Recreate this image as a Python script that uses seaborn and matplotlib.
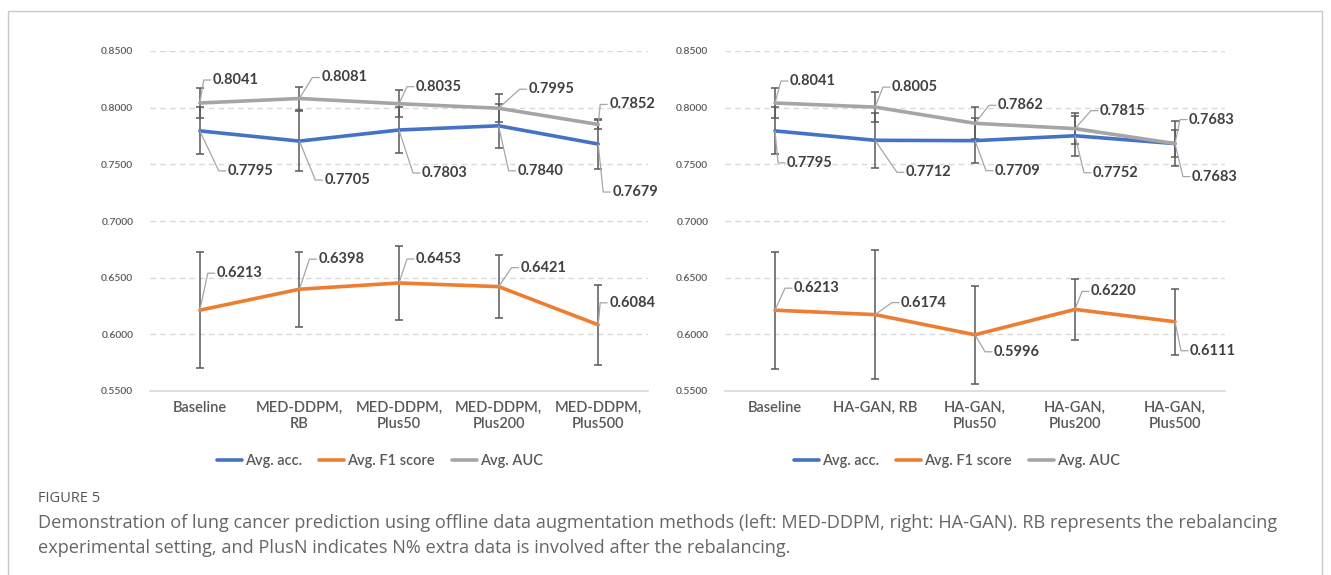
import matplotlib
matplotlib.use("Agg")
import matplotlib.pyplot as plt
from matplotlib.lines import Line2D
from matplotlib.patches import Rectangle
from matplotlib.transforms import IdentityTransform
import seaborn as sns
import pandas as pd

# ---- data -------------------------------------------------------------
left_categories = ["Baseline", "MED-DDPM,\nRB", "MED-DDPM,\nPlus50",
                   "MED-DDPM,\nPlus200", "MED-DDPM,\nPlus500"]
right_categories = ["Baseline", "HA-GAN, RB", "HA-GAN,\nPlus50",
                    "HA-GAN,\nPlus200", "HA-GAN,\nPlus500"]

left_acc = [0.7795, 0.7705, 0.7803, 0.7840, 0.7679]
left_f1 = [0.6213, 0.6398, 0.6453, 0.6421, 0.6084]
left_auc = [0.8041, 0.8081, 0.8035, 0.7995, 0.7852]
left_acc_err = [0.0207, 0.0263, 0.0200, 0.0193, 0.0219]
left_f1_err = [0.0514, 0.0332, 0.0328, 0.0279, 0.0353]
left_auc_err = [0.0130, 0.0104, 0.0118, 0.0123, 0.0040]

right_acc = [0.7795, 0.7712, 0.7709, 0.7752, 0.7683]
right_f1 = [0.6213, 0.6174, 0.5996, 0.6220, 0.6111]
right_auc = [0.8041, 0.8005, 0.7862, 0.7815, 0.7683]
right_acc_err = [0.0207, 0.0241, 0.0200, 0.0175, 0.0200]
right_f1_err = [0.0516, 0.0566, 0.0431, 0.0270, 0.0289]
right_auc_err = [0.0130, 0.0131, 0.0141, 0.0135, 0.0120]

metric_names = ["Avg. acc.", "Avg. F1 score", "Avg. AUC"]
y_ticks = [0.55, 0.60, 0.65, 0.70, 0.75, 0.80, 0.85]

caption_head = "FIGURE 5"
caption_lines = [
    "Demonstration of lung cancer prediction using offline data augmentation methods (left: MED-DDPM, right: HA-GAN). RB represents the rebalancing",
    "experimental setting, and PlusN indicates N% extra data is involved after the rebalancing.",
]

# ---- styling / layout -------------------------------------------------
colors = {"Avg. acc.": "#4472C4", "Avg. F1 score": "#ED7D31", "Avg. AUC": "#A5A5A5"}
W, H = 1331, 575
DPI = 100

# label offsets in pixels (dx right, dy down) from each point
left_offsets = {
    "Avg. acc.": [(28, 40), (25, 39), (23, 43), (19, 45), (14, 48)],
    "Avg. F1 score": [(17, -37), (19, -30), (17, -24), (22, -19), (11, -22)],
    "Avg. AUC": [(13, -23), (22, -21), (17, -17), (30, -19), (11, -20)],
}
right_offsets = {
    "Avg. acc.": [(12, 32), (31, 32), (20, 30), (18, 37), (17, 33)],
    "Avg. F1 score": [(19, -22), (26, -12), (19, 17), (16, -18), (15, 29)],
    "Avg. AUC": [(15, -22), (17, -20), (23, -18), (25, -18), (14, -24)],
}

sns.set_theme(style="white")
plt.rcParams["font.family"] = ["Lato", "DejaVu Sans"]

fig = plt.figure(figsize=(W / DPI, H / DPI), dpi=DPI)
fig.patch.set_facecolor("white")

# outer frame
fig.add_artist(Rectangle((8 / W, -0.05), (1322 - 8) / W, 1 - 11 / H + 0.05,
                         transform=fig.transFigure, fill=False,
                         edgecolor="#C9C9C9", lw=1.0))

ax_bottom = 1 - 391 / H
ax_height = (391 - 51) / H
ax_left = fig.add_axes([150 / W, ax_bottom, 498 / W, ax_height])
ax_right = fig.add_axes([725 / W, ax_bottom, 500 / W, ax_height])


def draw_panel(ax, categories, acc, f1, auc, acc_err, f1_err, auc_err, offsets):
    n = len(categories)
    series = {"Avg. acc.": acc, "Avg. F1 score": f1, "Avg. AUC": auc}
    errors = {"Avg. acc.": acc_err, "Avg. F1 score": f1_err, "Avg. AUC": auc_err}
    rows = []
    for m in metric_names:
        for i in range(n):
            rows.append({"pos": i, "metric": m, "value": series[m][i]})
    df = pd.DataFrame(rows)

    ax.set_xlim(-0.5, n - 0.5)
    ax.set_ylim(y_ticks[0], y_ticks[-1])

    # dashed horizontal gridlines
    for t in y_ticks[1:]:
        ax.axhline(t, color="#D9D9D9", lw=1.0, ls=(0, (4, 3)), zorder=0)

    # error bars
    for m in metric_names:
        ax.errorbar(range(n), series[m], yerr=errors[m], fmt="none",
                    ecolor="#595959", elinewidth=1.1, capsize=3,
                    capthick=1.1, zorder=2)

    sns.lineplot(data=df, x="pos", y="value", hue="metric",
                 hue_order=metric_names, palette=colors, lw=2.6,
                 legend=False, sort=False, ax=ax, zorder=3)

    ax.set_xticks(range(n))
    ax.set_xticklabels(categories, fontsize=10.5, color="#595959",
                       linespacing=1.25, fontweight="semibold")
    ax.set_yticks(y_ticks)
    ax.set_yticklabels([f"{t:.4f}" for t in y_ticks], fontsize=7.5,
                       color="#595959", fontweight="semibold")
    ax.tick_params(axis="both", length=0)
    ax.tick_params(axis="x", pad=7)
    ax.tick_params(axis="y", pad=12)
    ax.set_xlabel("")
    ax.set_ylabel("")
    for s in ["top", "left", "right"]:
        ax.spines[s].set_visible(False)
    ax.spines["bottom"].set_color("#D9D9D9")
    ax.spines["bottom"].set_linewidth(1.2)
    ax.set_facecolor("none")

    # data labels with leader lines
    fig.canvas.draw()
    for m in metric_names:
        for i in range(n):
            v = series[m][i]
            dx, dy = offsets[m][i]
            px, py = ax.transData.transform((i, v))
            ly = py - dy
            cx = px + max(dx - 9, 2)
            leader = Line2D([px, cx, px + dx - 2], [py, ly, ly],
                            transform=IdentityTransform(), color="#A6A6A6",
                            lw=0.9, zorder=4)
            fig.add_artist(leader)
            ax.annotate(f"{v:.4f}", xy=(i, v), xytext=(dx, -dy),
                        textcoords="offset pixels", ha="left", va="center",
                        fontsize=10.5, fontweight="bold", color="#404040",
                        zorder=5, annotation_clip=False)


draw_panel(ax_left, left_categories, left_acc, left_f1, left_auc,
           left_acc_err, left_f1_err, left_auc_err, left_offsets)
draw_panel(ax_right, right_categories, right_acc, right_f1, right_auc,
           right_acc_err, right_f1_err, right_auc_err, right_offsets)

# legends under each panel
handles = [Line2D([0], [0], color=colors[m], lw=2.6) for m in metric_names]
for cx in (380, 957):
    fig.legend(handles, metric_names, loc="center",
               bbox_to_anchor=(cx / W, 1 - 461 / H), ncol=3, frameon=False,
               prop={"size": 10.5, "weight": "semibold"},
               labelcolor="#595959", handlelength=1.7,
               handletextpad=0.2, columnspacing=1.2)

# caption
fig.text(38 / W, 1 - 498 / H, caption_head, fontsize=10.5, color="#555555",
         va="center", ha="left", family=["Open Sans", "DejaVu Sans"])
for k, line in enumerate(caption_lines):
    fig.text(38 / W, 1 - (523 + 25 * k) / H, line, fontsize=13.1,
             color="#666666", va="center", ha="left",
             family=["Open Sans", "DejaVu Sans"])

fig.savefig("out.png", dpi=DPI)
